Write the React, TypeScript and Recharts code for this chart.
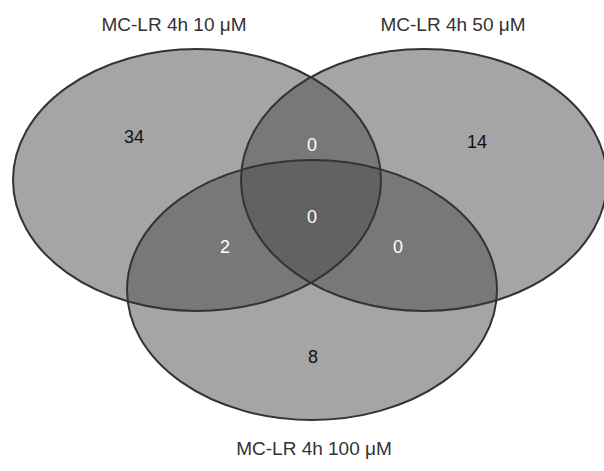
import React from 'react'
import { ScatterChart, Scatter, XAxis, YAxis } from 'recharts'

const W = 604
const H = 471

// sets: label, centre (x, y in chart units), radii
const setNames = ['MC-LR 4h 10 μM', 'MC-LR 4h 50 μM', 'MC-LR 4h 100 μM']
const setCx = [197, 424, 312]
const setCy = [180, 180, 290]
const setRx = [184, 183, 185]
const setRy = [131, 131, 130]
const titleX = [174, 453, 314]
const titleY = [24, 24, 448]

// region counts; key says which sets the region belongs to
const regionKeys = ['A', 'B', 'C', 'AB', 'AC', 'BC', 'ABC']
const regionCounts = [34, 14, 8, 0, 2, 0, 0]
const regionX = [134, 477, 313, 312, 225, 398, 312]
const regionY = [137, 142, 357, 145, 247, 247, 217]

const FONT = '"Liberation Sans", Arial, sans-serif'

const ellipses = setNames.map((name, i) => ({
  name, x: setCx[i], y: setCy[i], rx: setRx[i], ry: setRy[i],
}))
const titles = setNames.map((name, i) => ({ name, x: titleX[i], y: titleY[i] }))
const regions = regionKeys.map((key, i) => ({
  key, count: regionCounts[i], x: regionX[i], y: regionY[i],
}))

// one data unit is one pixel (domain matches the plot size, margins 0)
const SX = 1
const SY = 1

// eslint-disable-next-line @typescript-eslint/no-explicit-any
function EllipseFill(props: any) {
  const { cx, cy, payload } = props
  return <ellipse cx={cx} cy={cy} rx={payload.rx * SX} ry={payload.ry * SY} fill="#4b4b4b" fillOpacity={0.5} stroke="none" />
}

// eslint-disable-next-line @typescript-eslint/no-explicit-any
function EllipseEdge(props: any) {
  const { cx, cy, payload } = props
  return <ellipse cx={cx} cy={cy} rx={payload.rx * SX} ry={payload.ry * SY} fill="none" stroke="#333" strokeWidth={2} />
}

// eslint-disable-next-line @typescript-eslint/no-explicit-any
function Title(props: any) {
  const { cx, cy, payload } = props
  return (
    <text x={cx} y={cy} textAnchor="middle" dominantBaseline="central" fontFamily={FONT} fontSize={19} fill="#333">
      {payload.name}
    </text>
  )
}

// eslint-disable-next-line @typescript-eslint/no-explicit-any
function Count(props: any) {
  const { cx, cy, payload } = props
  const dark = payload.key.length > 1
  return (
    <text x={cx} y={cy} textAnchor="middle" dominantBaseline="central" fontFamily={FONT} fontSize={18} fill={dark ? '#fff' : '#111'}>
      {payload.count}
    </text>
  )
}

export default function App() {
  return (
    <div style={{ position: 'fixed', left: 0, top: 0, width: W, height: H, background: '#fff' }}>
      <ScatterChart width={W} height={H} margin={{ top: 0, right: 0, bottom: 0, left: 0 }}>
        <XAxis type="number" dataKey="x" domain={[0, W]} hide />
        <YAxis type="number" dataKey="y" domain={[0, H]} reversed hide />
        <Scatter data={ellipses} shape={<EllipseFill />} isAnimationActive={false} />
        <Scatter data={ellipses} shape={<EllipseEdge />} isAnimationActive={false} />
        <Scatter data={regions} shape={<Count />} isAnimationActive={false} />
        <Scatter data={titles} shape={<Title />} isAnimationActive={false} />
      </ScatterChart>
    </div>
  )
}
